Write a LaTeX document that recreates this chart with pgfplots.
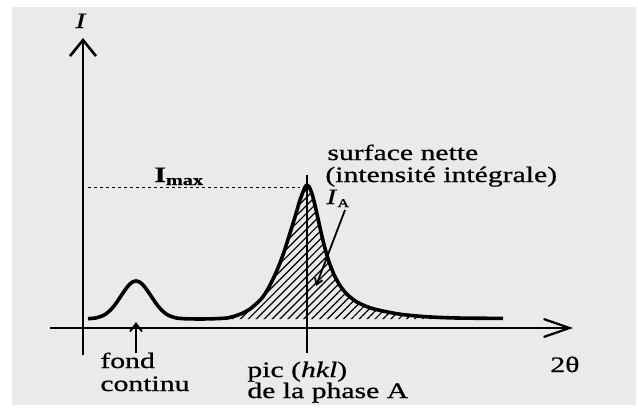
\documentclass[border=0pt]{standalone}
\usepackage{pgfplots}
\pgfplotsset{compat=1.18}
\usepackage{fontspec}
\setmainfont{Liberation Serif}[FakeStretch=1.35, FakeBold=0.7]
\usetikzlibrary{arrows.meta,patterns.meta}
\definecolor{panel}{RGB}{234,234,234}

\begin{document}
\begin{tikzpicture}[font=\fontsize{11}{13}\selectfont]
\begin{axis}[
  hide axis, clip=false, scale only axis,
  width=319pt, height=204.5pt,
  xmin=0, xmax=638, ymin=-90, ymax=319,
]
% panel background
\fill[white] (axis cs:0,-90) rectangle (axis cs:638,319);
\fill[panel] (axis cs:12,312) rectangle (axis cs:636,-86);

% hatched net area under the diffraction peak
\addplot[draw=none, pattern={Lines[angle=45,distance=2.8pt,line width=0.6pt]}, pattern color=black]
  coordinates {(215,0) (227,1) (235,3) (243,6) (250,10) (256,15) (262,21) (268,30)
   (274,42) (280,56) (285,70) (290,86) (295,102) (300,119) (303,127) (305,132)
   (307,134) (309,132.5) (312,125.3) (315,113.8) (318,100.4) (321,86.8) (325,70.6)
   (329,57.2) (334,44.4) (340,33.4) (347,24.7) (357,16.9) (370,11.2) (385,7.5)
   (402,4.5) (427,2.2) (450,0)} \closedcycle;

% measured intensity profile
\addplot[line width=1.8pt, smooth, tension=0.4, line join=round] coordinates {
  (88,0.3) (96,1.1) (104,3.9) (110,8.5) (116,15.6) (122,24.6) (128,33.0) (132,36.7)
  (136,38) (140,36.7) (144,33.0) (150,24.6) (156,15.6) (162,8.5) (168,3.9) (176,1.1)
  (184,0.3) (200,0) (215,0.3) (227,1) (235,3) (243,6) (250,10) (256,15) (262,21)
  (268,30) (274,42) (280,56) (285,70) (290,86) (295,102) (300,119) (303,127)
  (305,132) (307,134) (309,132.5) (312,125.3) (315,113.8) (318,100.4) (321,86.8)
  (325,70.6) (329,57.2) (334,44.4) (340,33.4) (347,24.7) (357,16.9) (370,11.2)
  (385,7.5) (402,4.5) (427,2.2) (457,1.0) (503,0.6)};

% axes
\draw[line width=1.3pt, -{Straight Barb[length=8pt,width=13pt,line width=1.3pt]}]
  (axis cs:83,-36) -- (axis cs:83,281);
\draw[line width=0.9pt, -{Straight Barb[length=13pt,width=9pt,line width=1.1pt]}]
  (axis cs:50,-9) -- (axis cs:573,-9);

% I_max level and peak position
\draw[line width=0.5pt, dash pattern=on 1.5pt off 1.5pt] (axis cs:88,132) -- (axis cs:300,132);
\draw[line width=0.9pt] (axis cs:307,144) -- (axis cs:307,-34);

% pointers
\draw[line width=0.9pt, -{Straight Barb[length=4pt,width=6pt]}] (axis cs:136,-34) -- (axis cs:136,-3);
\draw[line width=0.9pt, -{Straight Barb[length=3pt,width=4pt]}] (axis cs:345,109) -- (axis cs:316,33);

% labels
\node[anchor=base] at (axis cs:81,291) {\textit{I}};
\node[anchor=base west, inner sep=0pt] at (axis cs:154,137)
  {\textbf{I}\raisebox{-1.5pt}{\fontsize{7.5}{9}\selectfont\textbf{max}}};
\node[anchor=base west, inner sep=0pt] at (axis cs:327,159) {surface nette};
\node[anchor=base west, inner sep=0pt] at (axis cs:325,137) {(intensité intégrale)};
\node[anchor=base west, inner sep=0pt] at (axis cs:326,115)
  {\textit{I}\raisebox{-1.5pt}{\fontsize{6}{7}\selectfont A}};
\node[anchor=base west, inner sep=0pt] at (axis cs:100,-49) {fond};
\node[anchor=base west, inner sep=0pt] at (axis cs:100,-72) {continu};
\node[anchor=base west, inner sep=0pt] at (axis cs:247,-58) {pic (\textit{hkl})};
\node[anchor=base west, inner sep=0pt] at (axis cs:247,-79) {de la phase A};
\node[anchor=base west, inner sep=0pt] at (axis cs:550,-53) {2θ};
\end{axis}
\end{tikzpicture}
\end{document}
